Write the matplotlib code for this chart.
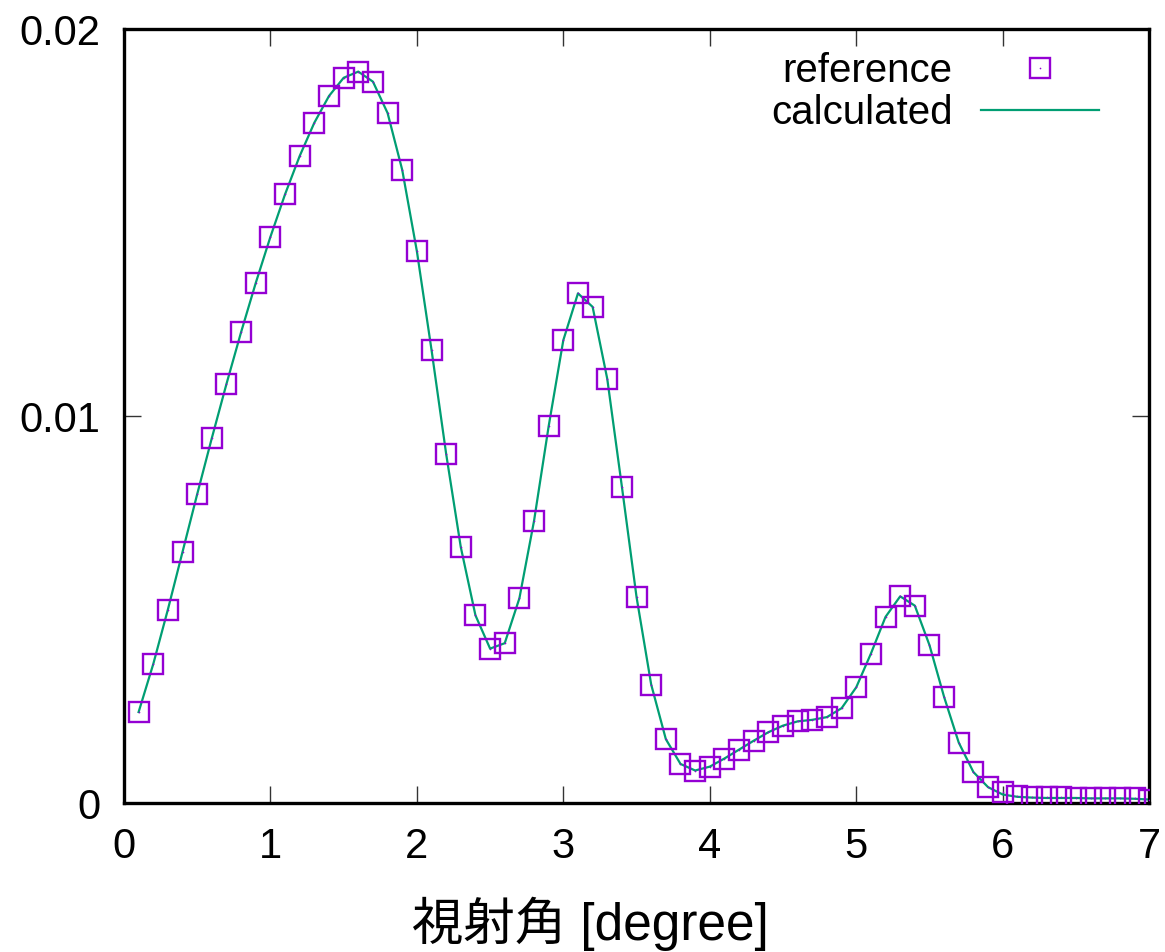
import numpy as np
import matplotlib
matplotlib.use("Agg")
import matplotlib.pyplot as plt

plt.rcParams['font.family'] = ['Liberation Sans', 'Noto Sans CJK JP', 'DejaVu Sans']

# glancing angle [degree]
angle = [0.1, 0.2, 0.3, 0.4, 0.5, 0.6, 0.7, 0.8, 0.9, 1.0,
         1.1, 1.2, 1.3, 1.4, 1.5, 1.6, 1.7, 1.8, 1.9, 2.0,
         2.1, 2.2, 2.3, 2.4, 2.5, 2.6, 2.7, 2.8, 2.9, 3.0,
         3.1, 3.2, 3.3, 3.4, 3.5, 3.6, 3.7, 3.8, 3.9, 4.0,
         4.1, 4.2, 4.3, 4.4, 4.5, 4.6, 4.7, 4.8, 4.9, 5.0,
         5.1, 5.2, 5.3, 5.4, 5.5, 5.6, 5.7, 5.8, 5.9, 6.0,
         6.1, 6.2, 6.3, 6.4, 6.5, 6.6, 6.7, 6.8, 6.9, 7.0]

reference = [0.00235, 0.00359, 0.00500, 0.00649, 0.00798, 0.00943, 0.01083, 0.01217, 0.01344, 0.01463,
             0.01573, 0.01672, 0.01758, 0.01827, 0.01874, 0.01890, 0.01864, 0.01783, 0.01636, 0.01426,
             0.01171, 0.00902, 0.00661, 0.00485, 0.00399, 0.00413, 0.00529, 0.00729, 0.00974, 0.01196,
             0.01317, 0.01282, 0.01096, 0.00817, 0.00532, 0.00306, 0.00165, 0.00101, 0.00084, 0.00094,
             0.00115, 0.00138, 0.00161, 0.00183, 0.00200, 0.00211, 0.00215, 0.00222, 0.00245, 0.00299,
             0.00386, 0.00481, 0.00534, 0.00510, 0.00408, 0.00274, 0.00156, 0.00080, 0.00041, 0.00028,
             0.00019, 0.00016, 0.00015, 0.00015, 0.00014, 0.00014, 0.00014, 0.00013, 0.00012, 0.00009]

calculated = [0.00235, 0.00359, 0.00500, 0.00649, 0.00798, 0.00943, 0.01083, 0.01217, 0.01344, 0.01463,
              0.01573, 0.01672, 0.01758, 0.01827, 0.01874, 0.01890, 0.01864, 0.01783, 0.01636, 0.01426,
              0.01171, 0.00902, 0.00661, 0.00485, 0.00399, 0.00413, 0.00529, 0.00729, 0.00974, 0.01196,
              0.01317, 0.01282, 0.01096, 0.00817, 0.00532, 0.00306, 0.00165, 0.00101, 0.00084, 0.00094,
              0.00115, 0.00138, 0.00161, 0.00183, 0.00200, 0.00211, 0.00215, 0.00222, 0.00245, 0.00299,
              0.00386, 0.00481, 0.00534, 0.00510, 0.00408, 0.00274, 0.00156, 0.00080, 0.00041, 0.00022,
              0.00016, 0.00014, 0.00013, 0.00013, 0.00013, 0.00012, 0.00012, 0.00012, 0.00011, 0.00009]

xticks = [0, 1, 2, 3, 4, 5, 6, 7]
yticks = [0, 0.01, 0.02]
yticklabels = ["0", "0.01", "0.02"]

purple = '#9400d3'
green = '#009e73'

fig = plt.figure(figsize=(11.65, 9.52), dpi=100)
ax = fig.add_axes([0.1064, 0.1565, 0.88, 0.813])

sq, = ax.plot(angle, reference, ls='none', marker='s', ms=13.8, mfc='none',
              mec=purple, mew=1.7, zorder=3)
dot, = ax.plot(angle, reference, ls='none', marker='o', ms=1.2, mfc=purple,
               mec=purple, mew=0, zorder=3)
line, = ax.plot(angle, calculated, color=green, lw=1.6, zorder=2)

ax.set_xlim(0, 7)
ax.set_ylim(0, 0.02)
ax.set_xticks(xticks)
ax.set_yticks(yticks)
ax.set_yticklabels(yticklabels)
ax.tick_params(direction='in', length=12, width=1, top=True, right=True,
               labelsize=30, color='#333333')
ax.tick_params(axis='y', pad=17)
ax.tick_params(axis='x', pad=17)
for s in ax.spines.values():
    s.set_linewidth(2.4)

fig.text(590 / 1165, 1 - 924 / 952, "視射角 [degree]", ha='center', va='center',
         fontsize=37, family=['Liberation Sans', 'Noto Sans CJK JP'])

ax.legend([(sq, dot), line], ["reference", "calculated"], loc='upper right',
          bbox_to_anchor=(0.951, 0.970), frameon=False, markerfirst=False,
          fontsize=29, handlelength=2.93, handletextpad=0.7, labelspacing=0.1,
          borderpad=0, borderaxespad=0)

fig.savefig("out.png", dpi=100)
